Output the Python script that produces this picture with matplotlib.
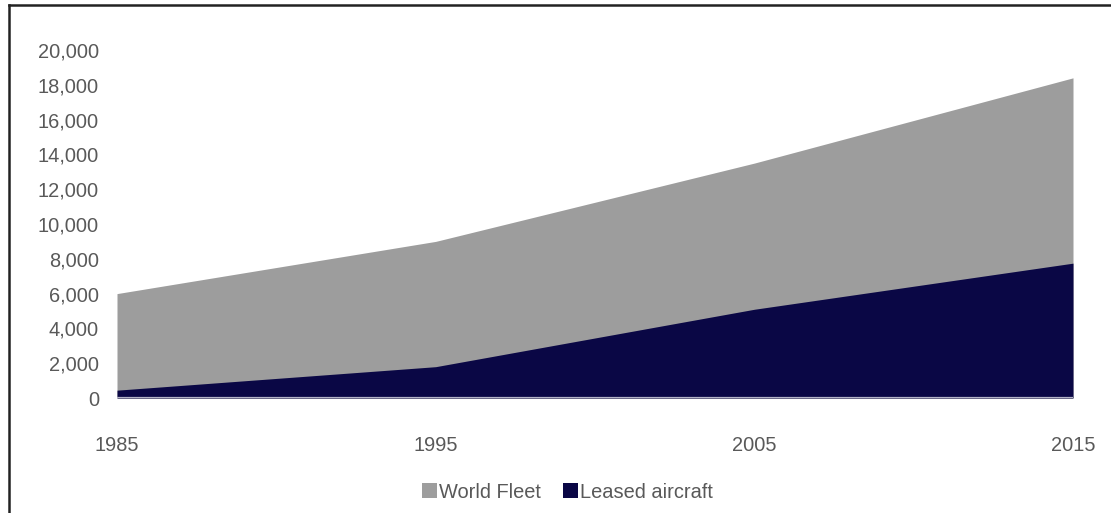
import matplotlib
matplotlib.use("Agg")
import matplotlib.pyplot as plt
from matplotlib.patches import Patch
from matplotlib.lines import Line2D
from matplotlib.ticker import FuncFormatter

plt.rcParams['font.family'] = ['Liberation Sans', 'DejaVu Sans']

years = [1985, 1995, 2005, 2015]
world_fleet = [6000, 9000, 13500, 18400]
leased_aircraft = [450, 1800, 5100, 7750]
series_names = ["World Fleet", "Leased aircraft"]

gray = "#9D9D9D"
navy = "#0A0745"
text_color = "#595959"

fig = plt.figure(figsize=(11.11, 5.13), dpi=100)
ax = fig.add_axes([117 / 1111, 1 - 398 / 513, (1073 - 117) / 1111, (398 - 50) / 513])

ax.fill_between(years, 0, world_fleet, color=gray, linewidth=0)
ax.fill_between(years, 0, leased_aircraft, color=navy, linewidth=0)
ax.axhline(0, color="#B4B4C8", linewidth=1.6, zorder=3)

ax.set_xlim(years[0], years[-1])
ax.set_ylim(0, 20000)
ax.set_xticks(years)
ax.set_yticks(range(0, 20001, 2000))
ax.yaxis.set_major_formatter(FuncFormatter(lambda v, p: f"{int(v):,}"))
ax.tick_params(axis='both', length=0, labelsize=14.4, colors=text_color)
ax.tick_params(axis='y', pad=13)
ax.tick_params(axis='x', pad=27.5)
for s in ax.spines.values():
    s.set_visible(False)

handles = [Patch(facecolor=gray, edgecolor='none'), Patch(facecolor=navy, edgecolor='none')]
leg = fig.legend(handles, series_names, loc='center', bbox_to_anchor=(567 / 1111, 1 - 492 / 513),
                 ncol=2, frameon=False, fontsize=14.4, handlelength=0.75, handleheight=0.75,
                 handletextpad=0.1, columnspacing=1.1, borderaxespad=0, borderpad=0)
for t in leg.get_texts():
    t.set_color(text_color)

# outer frame: left and top edges
fig.add_artist(Line2D([8.5 / 1111, 8.5 / 1111], [0, 1 - 5 / 513], transform=fig.transFigure,
                      color="#222222", linewidth=1.8))
fig.add_artist(Line2D([8.5 / 1111, 1], [1 - 5 / 513, 1 - 5 / 513], transform=fig.transFigure,
                      color="#222222", linewidth=1.8))

fig.savefig("out.png", dpi=100)
